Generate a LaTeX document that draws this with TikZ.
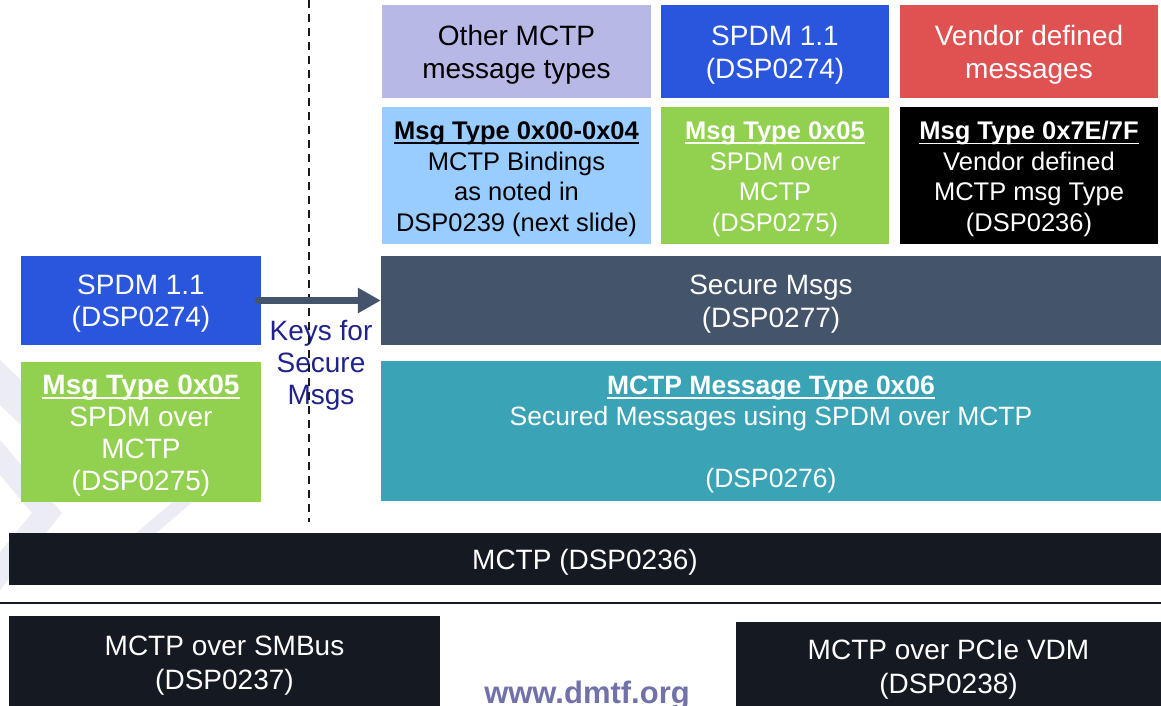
\documentclass[tikz,border=0pt]{standalone}
\usepackage{fontspec}
\setmainfont{Liberation Sans}
\usetikzlibrary{arrows.meta}
\definecolor{lav}{HTML}{B8B8E6}
\definecolor{sblue}{HTML}{2956DC}
\definecolor{vred}{HTML}{E05252}
\definecolor{lblue}{HTML}{99CCFF}
\definecolor{lgreen}{HTML}{92D050}
\definecolor{slate}{HTML}{44546A}
\definecolor{teal}{HTML}{3AA3B5}
\definecolor{darkbar}{HTML}{151922}
\definecolor{navy}{HTML}{22228C}
\definecolor{wmark}{HTML}{7272AA}
\definecolor{bgdeco}{HTML}{ECECF5}
\newcommand\ulbox[1]{\setbox0=\hbox{#1}\rlap{\rule[-4.6pt]{\wd0}{1.7pt}}\box0}
\begin{document}
\begin{tikzpicture}[x=1pt,y=-1pt,
  box/.style={draw=none, inner sep=0pt},
  tx/.style={inner sep=0pt, align=center, text=white, yshift=-3.5pt},
  fA/.style={font=\fontsize{28}{33}\selectfont},
  fB/.style={font=\fontsize{25.5}{30.5}\selectfont},
  fC/.style={font=\fontsize{26.5}{31}\selectfont},
  fD/.style={font=\fontsize{28}{32}\selectfont},
  fE/.style={font=\fontsize{28}{34}\selectfont},
  deco/.style={fill=bgdeco, draw=none}]
\useasboundingbox (0,0) rectangle (1161,706);
\fill[white] (0,0) rectangle (1161,706);
% faint background decoration
\fill[deco] (0,440) -- (62,513) -- (0,590) -- (0,552) -- (32,513) -- (0,475) -- cycle;
\fill[deco] (0,360) -- (21,380) -- (21,425) -- (0,405) -- cycle;
\fill[deco] (128,540) -- (175,500) -- (195,500) -- (148,540) -- cycle;
% top row
\node[box, fill=lav, minimum width=269pt, minimum height=93pt,
  label={[tx, fA, text=black]center:{Other MCTP\\message types}}] (other) at (516.5,51.5) {};
\node[box, fill=sblue, minimum width=228pt, minimum height=93pt,
  label={[tx, fA]center:{SPDM 1.1\\(DSP0274)}}] (spdmtop) at (775,51.5) {};
\node[box, fill=vred, minimum width=258pt, minimum height=93pt,
  label={[tx, fA]center:{Vendor defined\\messages}}] (vendor) at (1029,51.5) {};
% second row
\node[box, fill=lblue, minimum width=269pt, minimum height=137pt,
  label={[tx, fB, text=black]center:{\ulbox{\textbf{Msg Type 0x00-0x04}}\\MCTP Bindings\\as noted in\\DSP0239 (next slide)}}] (bind) at (516.5,175.5) {};
\node[box, fill=lgreen, minimum width=228pt, minimum height=137pt,
  label={[tx, fB]center:{\ulbox{\textbf{Msg Type 0x05}}\\SPDM over\\MCTP\\(DSP0275)}}] (t05) at (775,175.5) {};
\node[box, fill=black, minimum width=258pt, minimum height=137pt,
  label={[tx, fB]center:{\ulbox{\textbf{Msg Type 0x7E/7F}}\\Vendor defined\\MCTP msg Type\\(DSP0236)}}] (t7e) at (1029,175.5) {};
% secure msgs
\node[box, fill=slate, minimum width=780pt, minimum height=89pt,
  label={[tx, fA]center:{Secure Msgs\\(DSP0277)}}] (secure) at (771,300.5) {};
\node[box, fill=teal, minimum width=780pt, minimum height=140pt,
  label={[tx, fC]center:{\ulbox{\textbf{MCTP Message Type 0x06}}\\Secured Messages using SPDM over MCTP\\\mbox{}\\(DSP0276)}}] (t06) at (771,431) {};
% left side
\node[box, fill=sblue, minimum width=240pt, minimum height=89pt,
  label={[tx, fD]center:{SPDM 1.1\\(DSP0274)}}] (lspdm) at (141,300.5) {};
\node[box, fill=lgreen, minimum width=240pt, minimum height=140pt,
  label={[tx, fD]center:{\ulbox{\textbf{Msg Type 0x05}}\\SPDM over\\MCTP\\(DSP0275)}}] (l05) at (141,432) {};
\node[tx, fD, text=navy] (keys) at (321,362) {Keys for\\Secure\\Msgs};
% dashed divider
\coordinate (dtop) at (309,0);
\coordinate (dbot) at (309,522);
\draw[line width=2pt, darkbar, dash pattern=on 8pt off 6pt] (dtop) -- (dbot);
% arrow
\draw[line width=7pt, slate, line cap=round, -{Triangle[length=23pt,width=24pt]}] ([xshift=-3pt]lspdm.east) -- (secure.west);
% MCTP bar
\node[box, fill=darkbar, minimum width=1152pt, minimum height=52pt,
  label={[tx, fA]center:{MCTP (DSP0236)}}] (mctp) at (585,559) {};
% separator
\coordinate (sl) at (0,603);
\coordinate (sr) at (1161,603);
\draw[line width=2.5pt, darkbar] (sl) -- (sr);
% bottom boxes
\node[box, fill=darkbar, minimum width=431pt, minimum height=92pt,
  label={[tx, fE]center:{MCTP over SMBus\\(DSP0237)}}] (smbus) at (224.5,662) {};
\node[box, fill=darkbar, minimum width=425pt, minimum height=89pt,
  label={[tx, fE]center:{MCTP over PCIe VDM\\(DSP0238)}}] (pcie) at (948.5,666.5) {};
% watermark
\node[anchor=base, inner sep=0pt, text=wmark, font=\fontsize{31}{34}\selectfont\bfseries] (wm) at (587,703) {www.dmtf.org};
\end{tikzpicture}
\end{document}
